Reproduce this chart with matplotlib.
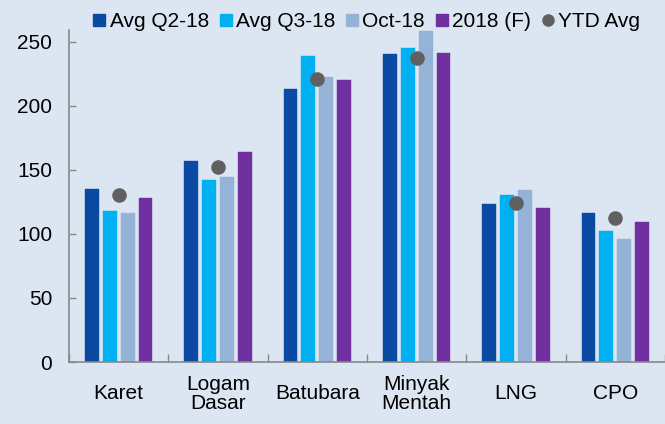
import matplotlib
matplotlib.use("Agg")
import matplotlib.pyplot as plt
import numpy as np
from matplotlib.lines import Line2D

categories = ["Karet", "Logam\nDasar", "Batubara", "Minyak\nMentah", "LNG", "CPO"]
avg_q2 = [135, 157, 213, 240, 123, 116]
avg_q3 = [118, 142, 239, 245, 130, 102]
oct18 = [116, 144, 222, 258, 134, 96]
f2018 = [128, 164, 220, 241, 120, 109]
ytd = [130, 152, 221, 237, 124, 112]
series_names = ["Avg Q2-18", "Avg Q3-18", "Oct-18", "2018 (F)", "YTD Avg"]
yticks = [0, 50, 100, 150, 200, 250]

colors = ["#0B4AA2", "#00B0F0", "#95B3D7", "#7030A0"]
dot_color = "#606060"
bg = "#DCE6F2"
FS = 15

plt.rcParams['font.family'] = ['Liberation Sans', 'DejaVu Sans']

fig = plt.figure(figsize=(6.65, 4.24), dpi=100, facecolor=bg)
ax = fig.add_axes([69/665, 1-362/424, (665-69)/665, (362-30)/424])
ax.set_facecolor(bg)

x = np.arange(len(categories))
w = 0.14
step = 0.18
offs = [-1.5*step, -0.5*step, 0.5*step, 1.5*step]
for vals, c, o in zip([avg_q2, avg_q3, oct18, f2018], colors, offs):
    ax.bar(x + o, vals, width=w, color=c, edgecolor=c, linewidth=0.3, zorder=2)
ax.scatter(x, ytd, s=110, color=dot_color, zorder=3, linewidths=0)

ax.set_xlim(-0.5, len(categories) - 0.5)
ax.set_ylim(0, 259)
ax.set_yticks(yticks)
ax.set_yticklabels([str(v) for v in yticks], fontsize=FS)
ax.tick_params(axis='y', direction='in', length=5, color='#888888', pad=12, width=1)
ax.set_xticks(x)
ax.set_xticklabels(categories, fontsize=FS, va='center', linespacing=0.95)
ax.tick_params(axis='x', length=0, pad=23)
ax.set_xticks(np.arange(-0.5, len(categories)), minor=True)
ax.tick_params(axis='x', which='minor', direction='in', length=6, color='#888888', width=1)

for s in ['top', 'right']:
    ax.spines[s].set_visible(False)
for s in ['left', 'bottom']:
    ax.spines[s].set_color('#888888')
    ax.spines[s].set_linewidth(1.2)

handles = [Line2D([], [], marker='s', linestyle='none', markersize=8, color=c) for c in colors]
handles.append(Line2D([], [], marker='o', linestyle='none', markersize=8, color=dot_color))
leg = fig.legend(handles, series_names, loc='upper left', bbox_to_anchor=(92/665, 1-12/424),
                 ncol=5, frameon=False, fontsize=FS, handlelength=0.7, handletextpad=0.15,
                 columnspacing=0.45, borderaxespad=0, borderpad=0)

fig.savefig("out.png", dpi=100, facecolor=bg)
